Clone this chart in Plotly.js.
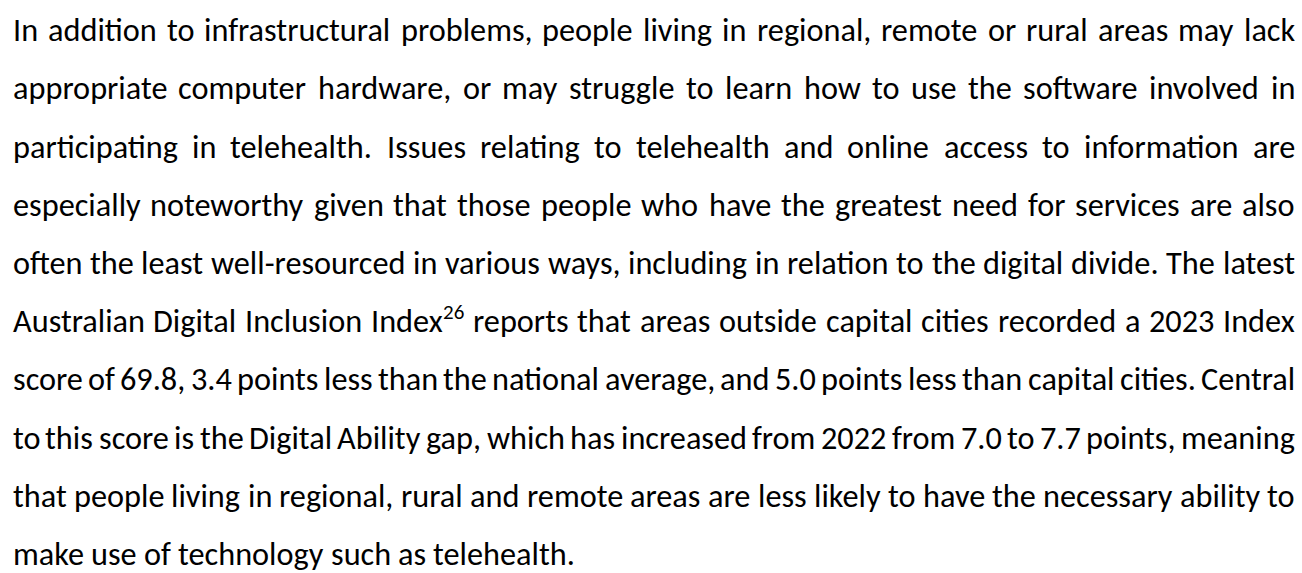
<!DOCTYPE html>
<html>
<head>
<meta charset="utf-8">
<script src="https://cdn.plot.ly/plotly-3.0.1.min.js"></script>
<style>html,body{margin:0;padding:0;background:#ffffff;overflow:hidden}</style>
</head>
<body>
<div id="chart" style="width:1302px;height:573px"></div>
<script>
// ---- Content (text lines of the justified paragraph) ----
const paragraphLines = [
  "In addition to infrastructural problems, people living in regional, remote or rural areas may lack",
  "appropriate computer hardware, or may struggle to learn how to use the software involved in",
  "participating in telehealth. Issues relating to telehealth and online access to information are",
  "especially noteworthy given that those people who have the greatest need for services are also",
  "often the least well-resourced in various ways, including in relation to the digital divide. The latest",
  "Australian Digital Inclusion Index<sup>26</sup> reports that areas outside capital cities recorded a 2023 Index",
  "score of 69.8, 3.4 points less than the national average, and 5.0 points less than capital cities. Central",
  "to this score is the Digital Ability gap, which has increased from 2022 from 7.0 to 7.7 points, meaning",
  "that people living in regional, rural and remote areas are less likely to have the necessary ability to",
  "make use of technology such as telehealth."
];
// lines whose spacing in the reference looks natural (used to size the font)
const naturalLines = [4, 8];

// ---- Layout / style ----
const W = 1302, H = 573;
const FONT_STACK = 'Carlito, Calibri, Lato, sans-serif';
const LEFT = 12.5, RIGHT = 1295;
const FIRST_BASELINE = 41.2, LINE_STEP = 58.2;
const TEXT_COLOR = '#000000';
const SUP_SCALE = 0.65, SUP_RAISE = 0.4;

const canvas = document.createElement('canvas');
const ctx = canvas.getContext('2d');
function measure(t, size) { ctx.font = size + 'px ' + FONT_STACK; return ctx.measureText(t).width; }
function tokenize(line) {
  return line.split(' ').map(w => {
    const m = w.match(/^(.*?)<sup>(.*?)<\/sup>$/);
    return m ? {base: m[1], sup: m[2]} : {base: w, sup: ''};
  });
}
function wordWidth(wd, size) { return measure(wd.base, size) + (wd.sup ? measure(wd.sup, size * SUP_SCALE) : 0); }

const tokens = paragraphLines.map(tokenize);
const lastIdx = paragraphLines.length - 1;
const REF = 100;
const spaceRef = measure(' ', REF);
let fontSize = 1000;
naturalLines.forEach(i => {
  const ws = tokens[i];
  const sum = ws.reduce((a, w) => a + wordWidth(w, REF), 0) + (ws.length - 1) * spaceRef;
  fontSize = Math.min(fontSize, REF * (RIGHT - LEFT) / sum);
});
tokens.forEach((ws, i) => {
  if (i === lastIdx) return;
  const sum = ws.reduce((a, w) => a + wordWidth(w, REF), 0) + (ws.length - 1) * spaceRef * 0.45;
  fontSize = Math.min(fontSize, REF * (RIGHT - LEFT) / sum);
});

ctx.font = fontSize + 'px ' + FONT_STACK;
const mt = ctx.measureText('Hg');
const asc = mt.fontBoundingBoxAscent || fontSize * 0.95;
const desc = mt.fontBoundingBoxDescent || fontSize * 0.25;
const supSize = fontSize * SUP_SCALE;
ctx.font = supSize + 'px ' + FONT_STACK;
const mts = ctx.measureText('26');
const ascS = mts.fontBoundingBoxAscent || supSize * 0.95;
const descS = mts.fontBoundingBoxDescent || supSize * 0.25;

const annotations = [];
function addText(text, xPx, baseline, size, a, d) {
  const midY = baseline - (a - d) / 2;
  annotations.push({
    text: text, xref: 'paper', yref: 'paper',
    x: xPx / W, y: 1 - midY / H,
    xanchor: 'left', yanchor: 'middle',
    showarrow: false, borderpad: 0, borderwidth: 0,
    font: {family: FONT_STACK, size: size, color: TEXT_COLOR}
  });
}

tokens.forEach((ws, i) => {
  const baseline = FIRST_BASELINE + i * LINE_STEP;
  const widths = ws.map(w => wordWidth(w, fontSize));
  const total = widths.reduce((a, b) => a + b, 0);
  const gap = (i === lastIdx || ws.length < 2) ? measure(' ', fontSize) : (RIGHT - LEFT - total) / (ws.length - 1);
  let x = LEFT;
  ws.forEach((w, j) => {
    addText(w.base, x, baseline, fontSize, asc, desc);
    if (w.sup) {
      const bx = x + measure(w.base, fontSize);
      addText(w.sup, bx, baseline - SUP_RAISE * fontSize, supSize, ascS, descS);
    }
    x += widths[j] + gap;
  });
});

const layout = {
  width: W, height: H,
  margin: {l: 0, r: 0, t: 0, b: 0, pad: 0},
  paper_bgcolor: '#ffffff', plot_bgcolor: '#ffffff',
  xaxis: {visible: false, range: [0, 1], fixedrange: true},
  yaxis: {visible: false, range: [0, 1], fixedrange: true},
  showlegend: false,
  annotations: annotations
};
Plotly.newPlot('chart', [], layout, {staticPlot: true, displayModeBar: false});
</script>
</body>
</html>
